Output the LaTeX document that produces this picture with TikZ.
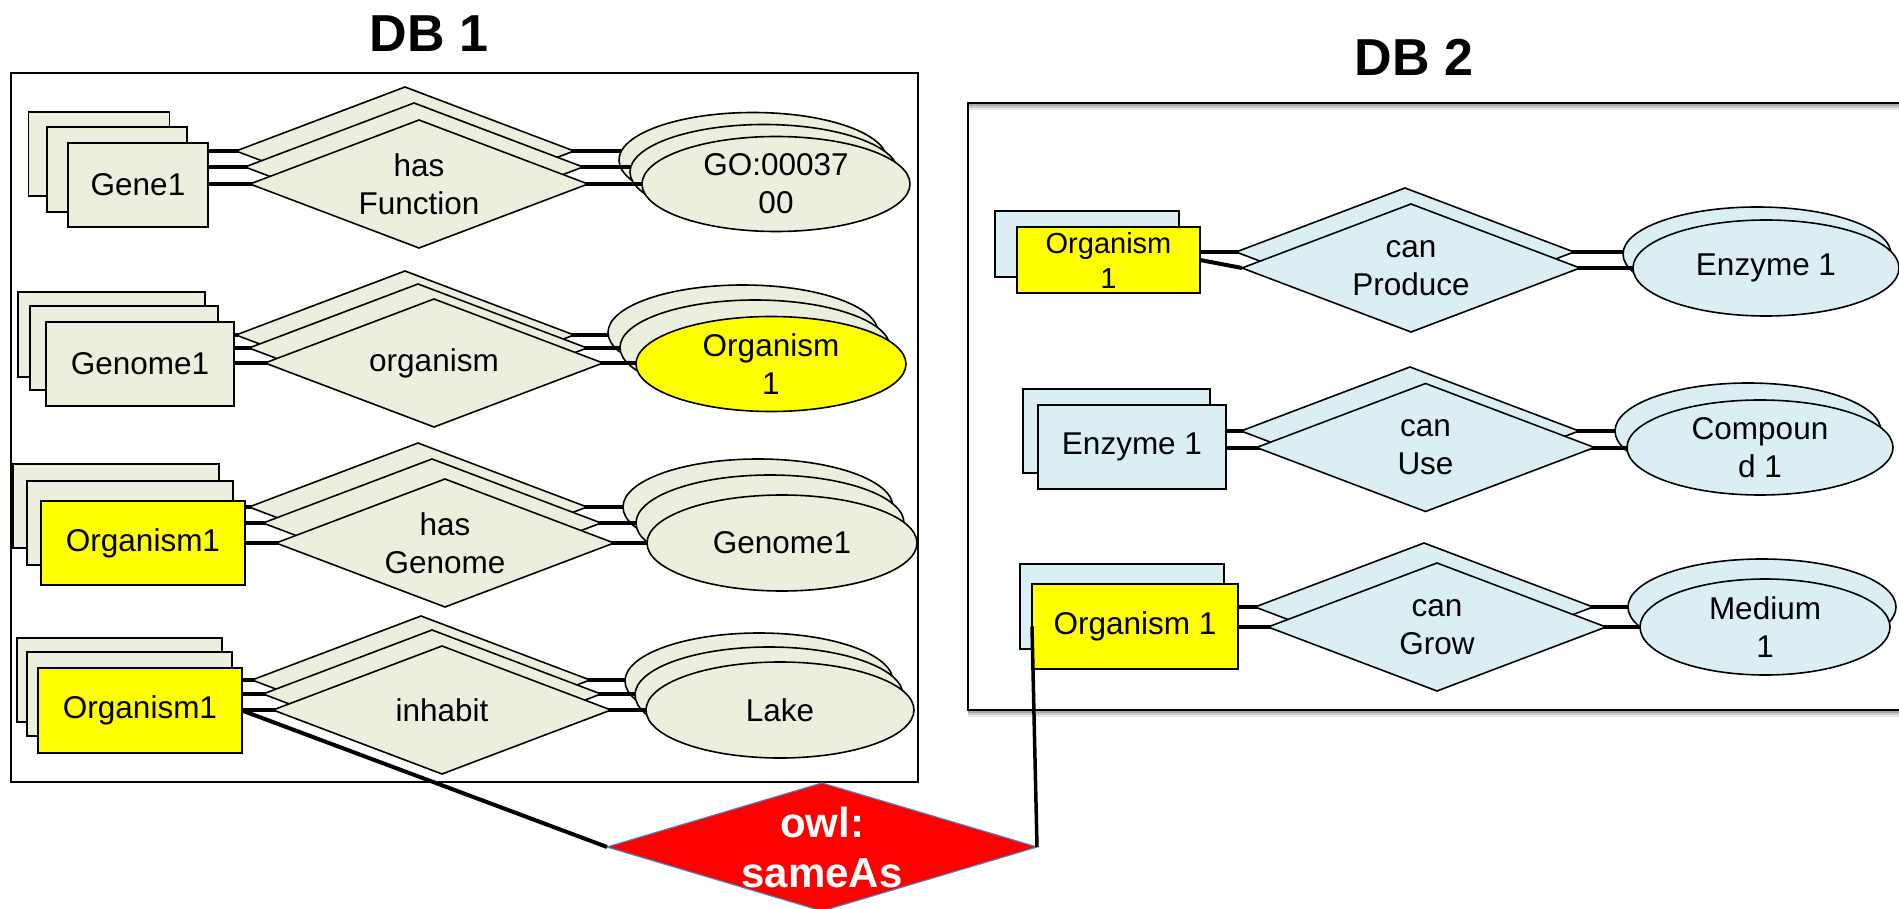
\documentclass[tikz,border=0pt]{standalone}
\usepackage{fontspec}
\setmainfont{Liberation Sans}
\usetikzlibrary{shapes.geometric}

\definecolor{dbone}{RGB}{235,239,222}
\definecolor{dbtwo}{RGB}{218,238,243}
\definecolor{hilite}{RGB}{255,255,0}
\definecolor{samered}{RGB}{255,0,0}
\definecolor{sameedge}{RGB}{79,129,189}

% stacking order: frames, then back/middle/front copies (connectors under their shapes)
\pgfdeclarelayer{bg}
\pgfdeclarelayer{b1}\pgfdeclarelayer{s1}
\pgfdeclarelayer{b2}\pgfdeclarelayer{s2}
\pgfdeclarelayer{b3}\pgfdeclarelayer{s3}
\pgfsetlayers{bg,b1,s1,b2,s2,b3,s3,main}

\begin{document}
\begin{tikzpicture}[x=1pt,y=-1pt,
  every node/.style={inner sep=0pt, outer sep=0pt, align=center,
    font=\fontsize{31.5}{38}\selectfont},
  ent/.style n args={3}{rectangle, draw=black, line width=1.6pt, fill=#1,
    minimum width=#2, minimum height=#3},
  rel/.style={diamond, draw=black, line width=1.6pt, fill=#1,
    minimum width=338pt, minimum height=128pt, aspect=2.64},
  att/.style n args={3}{ellipse, draw=black, line width=1.6pt, fill=#1,
    minimum width=#2, minimum height=#3},
  bar/.style={line width=4pt, black},
  frame/.style={rectangle, draw=black},
  shade/.style={line width=2pt},
  title/.style={font=\fontsize{52}{60}\selectfont\bfseries, anchor=base}
]
\useasboundingbox (0,0) rectangle (1899,909);

% ---------- frames ----------
\begin{pgfonlayer}{bg}
  \node[frame, line width=1.5pt, minimum width=907pt, minimum height=709pt] (frameA) at (464.5,427.5) {};
  % soft shadow of the second frame
  \foreach \d/\g in {2/34,4/20,6/9}{
    \draw[shade, black!\g] (968,103+\d) -- (1910,103+\d);
    \draw[shade, black!\g] (968,710+\d) -- (1910,710+\d);
  }
  \node[frame, line width=2pt, minimum width=940pt, minimum height=607pt] (frameB) at (1438,406.5) {};
\end{pgfonlayer}

\node[title] (titleA) at (429,52) {DB 1};
\node[title] (titleB) at (1414,76) {DB 2};

% ---------- back copies ----------
\begin{pgfonlayer}{s1}
  % DB 1
  \node[ent={dbone}{141pt}{84pt}] (g1a) at (99,154) {};
  \node[rel=dbone] (f1a) at (405,151) {};
  \node[att={dbone}{268pt}{95pt}] (a1a) at (753,160) {};
  \node[ent={dbone}{187pt}{85pt}] (g2a) at (111.5,334.5) {};
  \node[rel=dbone] (f2a) at (405,335) {};
  \node[att={dbone}{270pt}{95pt}] (a2a) at (743,332.5) {};
  \node[ent={dbone}{206pt}{84pt}] (g3a) at (116,506) {};
  \node[rel=dbone] (f3a) at (418,507) {};
  \node[att={dbone}{270pt}{96pt}] (a3a) at (758,507) {};
  \node[ent={dbone}{205pt}{84pt}] (g4a) at (119.5,680) {};
  \node[rel=dbone] (f4a) at (421,680) {};
  \node[att={dbone}{268pt}{96pt}] (a4a) at (759,681) {};
  % DB 2
  \node[ent={dbtwo}{184pt}{66pt}] (p1a) at (1087,244) {};
  \node[rel=dbtwo] (c1a) at (1405,252) {};
  \node[att={dbtwo}{268pt}{94pt}] (e1a) at (1757,254) {};
  \node[ent={dbtwo}{187pt}{84pt}] (p2a) at (1116.5,431) {};
  \node[rel=dbtwo] (c2a) at (1410,431) {};
  \node[att={dbtwo}{266pt}{96pt}] (e2a) at (1748,431) {};
  \node[ent={dbtwo}{204pt}{85pt}] (p3a) at (1122,606.5) {};
  \node[rel=dbtwo] (c3a) at (1424,607) {};
  \node[att={dbtwo}{268pt}{96pt}] (e3a) at (1762,607) {};
\end{pgfonlayer}

% ---------- middle copies (DB 1 only) ----------
\begin{pgfonlayer}{s2}
  \node[ent={dbone}{140pt}{85pt}] (g1b) at (117,169.5) {};
  \node[rel=dbone] (f1b) at (414,167) {};
  \node[att={dbone}{268pt}{95pt}] (a1b) at (764,172) {};
  \node[ent={dbone}{188pt}{84pt}] (g2b) at (124,348) {};
  \node[rel=dbone] (f2b) at (418,348) {};
  \node[att={dbone}{270pt}{95pt}] (a2b) at (755,347.5) {};
  \node[ent={dbone}{206pt}{84pt}] (g3b) at (130,523) {};
  \node[rel=dbone] (f3b) at (432,523) {};
  \node[att={dbone}{268pt}{96pt}] (a3b) at (770,523) {};
  \node[ent={dbone}{205pt}{84pt}] (g4b) at (129.5,694) {};
  \node[rel=dbone] (f4b) at (432,694) {};
  \node[att={dbone}{268pt}{96pt}] (a4b) at (769,695) {};
\end{pgfonlayer}

% ---------- front copies ----------
\begin{pgfonlayer}{s3}
  % DB 1
  \node[ent={dbone}{140pt}{84pt}] (g1c) at (138,185) {Gene1};
  \node[rel=dbone] (f1c) at (419,184) {has\\Function};
  \node[att={dbone}{268pt}{95pt}] (a1c) at (776,184) {GO:00037\\00};
  \node[ent={dbone}{188pt}{84pt}] (g2c) at (140,364) {Genome1};
  \node[rel=dbone] (f2c) at (434,363) {organism};
  \node[att={hilite}{270pt}{95pt}] (a2c) at (771,364) {Organism\\1};
  \node[ent={hilite}{204pt}{84pt}] (g3c) at (143,543) {Organism1};
  \node[rel=dbone] (f3c) at (445,543) {has\\Genome};
  \node[att={dbone}{270pt}{96pt}] (a3c) at (782,543) {Genome1};
  \node[ent={hilite}{204pt}{85pt}] (g4c) at (140,710.5) {Organism1};
  \node[rel=dbone] (f4c) at (442,710) {inhabit};
  \node[att={dbone}{268pt}{96pt}] (a4c) at (780,710) {Lake};
  % DB 2
  \node[ent={hilite}{183pt}{66pt}, font=\fontsize{29}{35}\selectfont] (p1b) at (1108.5,260) {Organism\\1};
  \node[rel=dbtwo] (c1b) at (1411,268) {can\\Produce};
  \node[att={dbtwo}{266pt}{96pt}] (e1b) at (1766,268) {Enzyme 1};
  \node[ent={dbtwo}{188pt}{84pt}] (p2b) at (1132,447) {Enzyme 1};
  \node[rel=dbtwo] (c2b) at (1425.5,447.5) {can\\Use};
  \node[att={dbtwo}{266pt}{95pt}] (e2b) at (1760,447.5) {Compoun\\d 1};
  \node[ent={hilite}{206pt}{85pt}] (p3b) at (1135,626.5) {Organism 1};
  \node[rel=dbtwo] (c3b) at (1437,627) {can\\Grow};
  \node[att={dbtwo}{250pt}{96pt}] (e3b) at (1765,627) {Medium\\1};
\end{pgfonlayer}

% ---------- connectors (each under the shapes of its own copy) ----------
\begin{pgfonlayer}{b1}
  \foreach \g/\f/\a in {g1a/f1a/a1a, g2a/f2a/a2a, g3a/f3a/a3a, g4a/f4a/a4a,
                        p1a/c1a/e1a, p2a/c2a/e2a, p3a/c3a/e3a}{
    \draw[bar] (\g.center |- \f.center) -- (\a.center |- \f.center);
  }
\end{pgfonlayer}
\begin{pgfonlayer}{b2}
  \foreach \g/\f/\a in {g1b/f1b/a1b, g2b/f2b/a2b, g3b/f3b/a3b, g4b/f4b/a4b}{
    \draw[bar] (\g.center |- \f.center) -- (\a.center |- \f.center);
  }
\end{pgfonlayer}
\begin{pgfonlayer}{b3}
  \foreach \g/\f/\a in {g1c/f1c/a1c, g2c/f2c/a2c, g3c/f3c/a3c, g4c/f4c/a4c,
                        p2b/c2b/e2b, p3b/c3b/e3b}{
    \draw[bar] (\g.center |- \f.center) -- (\a.center |- \f.center);
  }
  \draw[bar] (p1b.east) -- (c1b.west);
  \draw[bar] (c1b.center) -- (e1b.center);
\end{pgfonlayer}

% ---------- owl:sameAs link between the two databases ----------
\node[diamond, fill=samered, draw=sameedge, line width=1.2pt,
      minimum width=430pt, minimum height=128pt, aspect=3.36] (same) at (822,847) {};
\node[text=white, font=\fontsize{42}{50}\selectfont\bfseries] (sametext) at (same.center) {owl:\\sameAs};
\draw[line width=4pt] (g4c.east) -- (same.west);
\draw[line width=3.5pt] (same.east) -- (p3b.west);
\end{tikzpicture}
\end{document}
